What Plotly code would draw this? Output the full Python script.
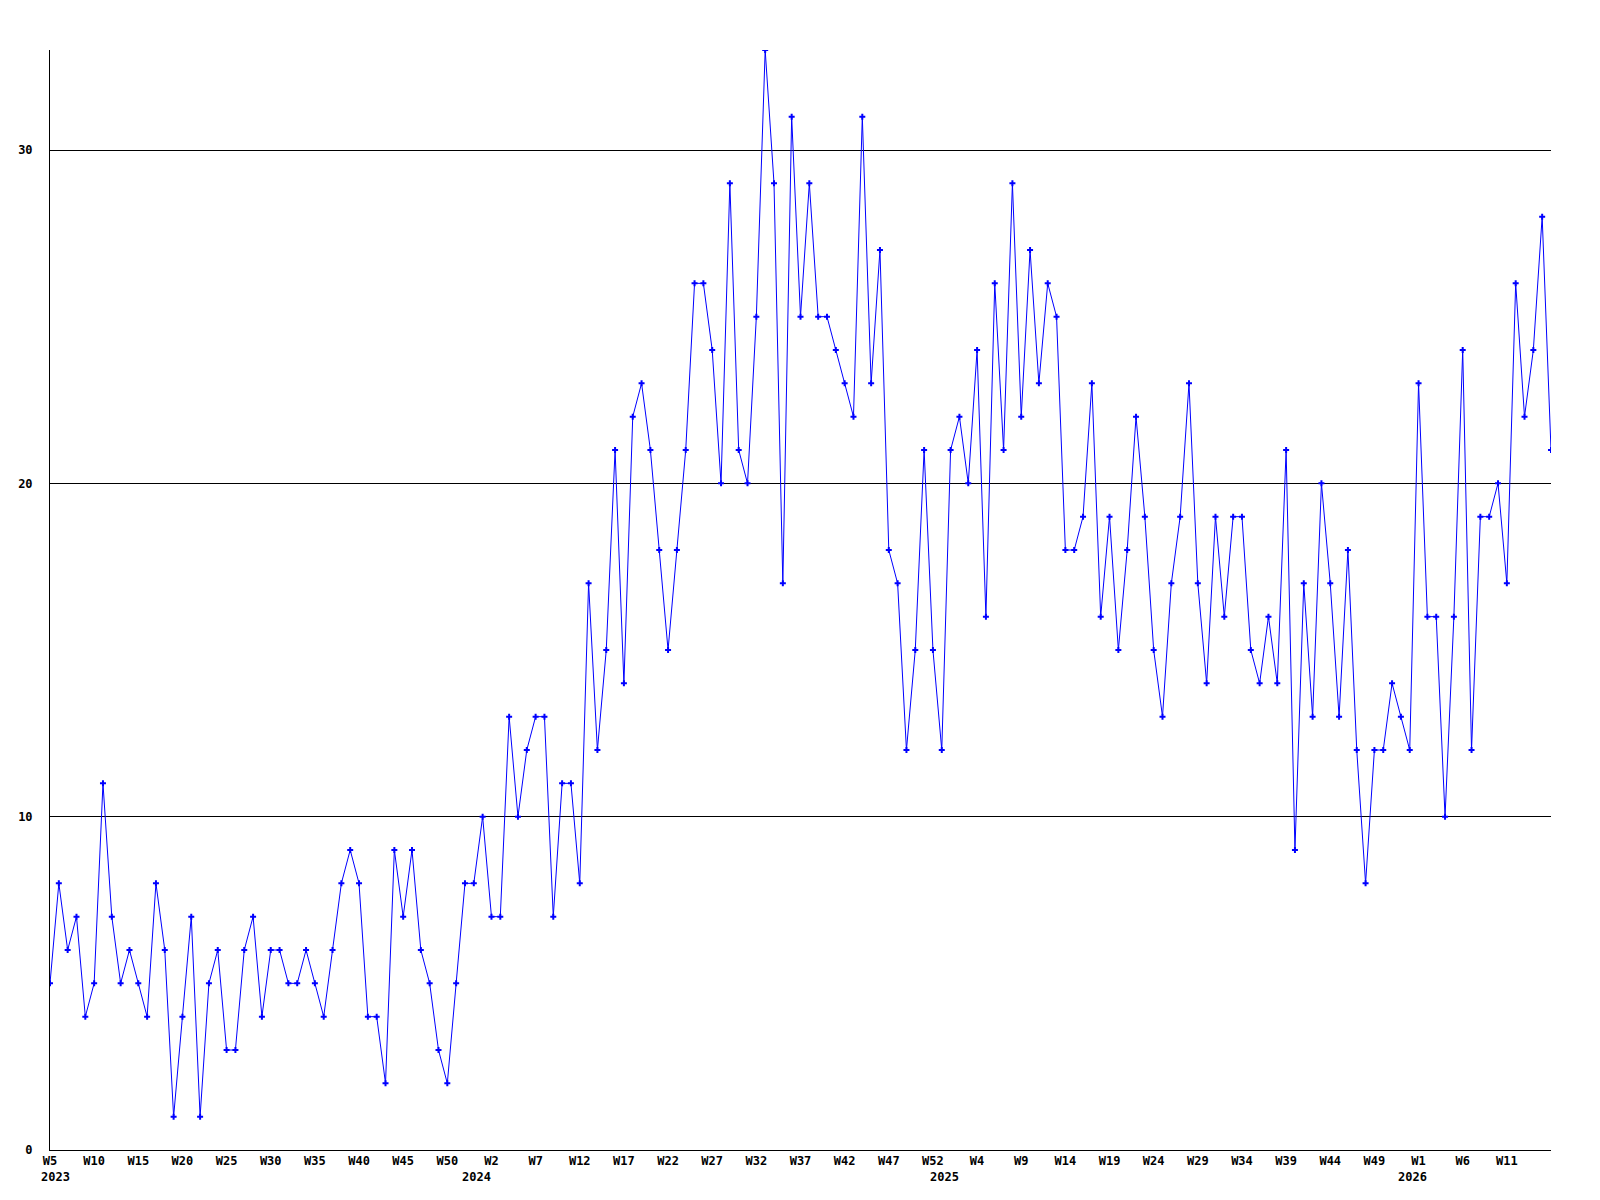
import plotly.graph_objects as go

# Weekly values, 2023-W5 through 2026-W16 (one point per week)
values = [
    5, 8, 6, 7, 4, 5, 11, 7, 5, 6,
    5, 4, 8, 6, 1, 4, 7, 1, 5, 6,
    3, 3, 6, 7, 4, 6, 6, 5, 5, 6,
    5, 4, 6, 8, 9, 8, 4, 4, 2, 9,
    7, 9, 6, 5, 3, 2, 5, 8, 8, 10,
    7, 7, 13, 10, 12, 13, 13, 7, 11, 11,
    8, 17, 12, 15, 21, 14, 22, 23, 21, 18,
    15, 18, 21, 26, 26, 24, 20, 29, 21, 20,
    25, 33, 29, 17, 31, 25, 29, 25, 25, 24,
    23, 22, 31, 23, 27, 18, 17, 12, 15, 21,
    15, 12, 21, 22, 20, 24, 16, 26, 21, 29,
    22, 27, 23, 26, 25, 18, 18, 19, 23, 16,
    19, 15, 18, 22, 19, 15, 13, 17, 19, 23,
    17, 14, 19, 16, 19, 19, 15, 14, 16, 14,
    21, 9, 17, 13, 20, 17, 13, 18, 12, 8,
    12, 12, 14, 13, 12, 23, 16, 16, 10, 16,
    24, 12, 19, 19, 20, 17, 26, 22, 24, 28,
    21,
]

# X tick labels, one every 5 weeks
tick_labels = [
    "W5", "W10", "W15", "W20", "W25", "W30", "W35", "W40", "W45", "W50",
    "W2", "W7", "W12", "W17", "W22", "W27", "W32", "W37", "W42", "W47", "W52",
    "W4", "W9", "W14", "W19", "W24", "W29", "W34", "W39", "W44", "W49",
    "W1", "W6", "W11",
]
tick_step = 5

# Year labels and the week index at which each year starts
years = ["2023", "2024", "2025", "2026"]
year_start_index = [0, 49, 102, 155]

y_ticks = [0, 10, 20, 30]
y_max = 33

x = list(range(len(values)))
tickvals = [i * tick_step for i in range(len(tick_labels))]

font = dict(family="DejaVu Sans Mono", size=12, color="black", weight="bold")

fig = go.Figure()
fig.add_trace(go.Scatter(
    x=x, y=values, mode="lines+markers",
    line=dict(color="#0000ff", width=1),
    marker=dict(symbol="cross", size=5, color="#0000ff", line=dict(width=0)),
    showlegend=False, hoverinfo="y",
))

for yr, idx in zip(years, year_start_index):
    first = idx == 0
    fig.add_annotation(
        x=idx, y=0, xref="x", yref="paper",
        text=yr, showarrow=False, font=font,
        xanchor="left" if first else "center", yanchor="middle",
        xshift=-11 if first else -6, yshift=-27,
    )

# page body has an 8px default margin, so the figure is sized to fit the window
fig.update_layout(
    width=1584, height=1184,
    margin=dict(l=42, r=41, t=42, b=42),
    paper_bgcolor="white", plot_bgcolor="white",
    font=font,
)
fig.update_xaxes(
    range=[0, len(values) - 1],
    tickvals=tickvals, ticktext=tick_labels,
    showgrid=False, zeroline=False, automargin=False,
    showline=True, linecolor="black", linewidth=1,
    ticks="", tickfont=font, tickangle=0,
)
fig.update_yaxes(
    range=[0, y_max],
    tickvals=y_ticks, ticktext=[str(v) for v in y_ticks],
    showgrid=True, gridcolor="black", gridwidth=1,
    zeroline=False, automargin=False,
    showline=True, linecolor="black", linewidth=1,
    ticks="", tickfont=font, ticklabelstandoff=14,
)

fig.write_html("out.html")
